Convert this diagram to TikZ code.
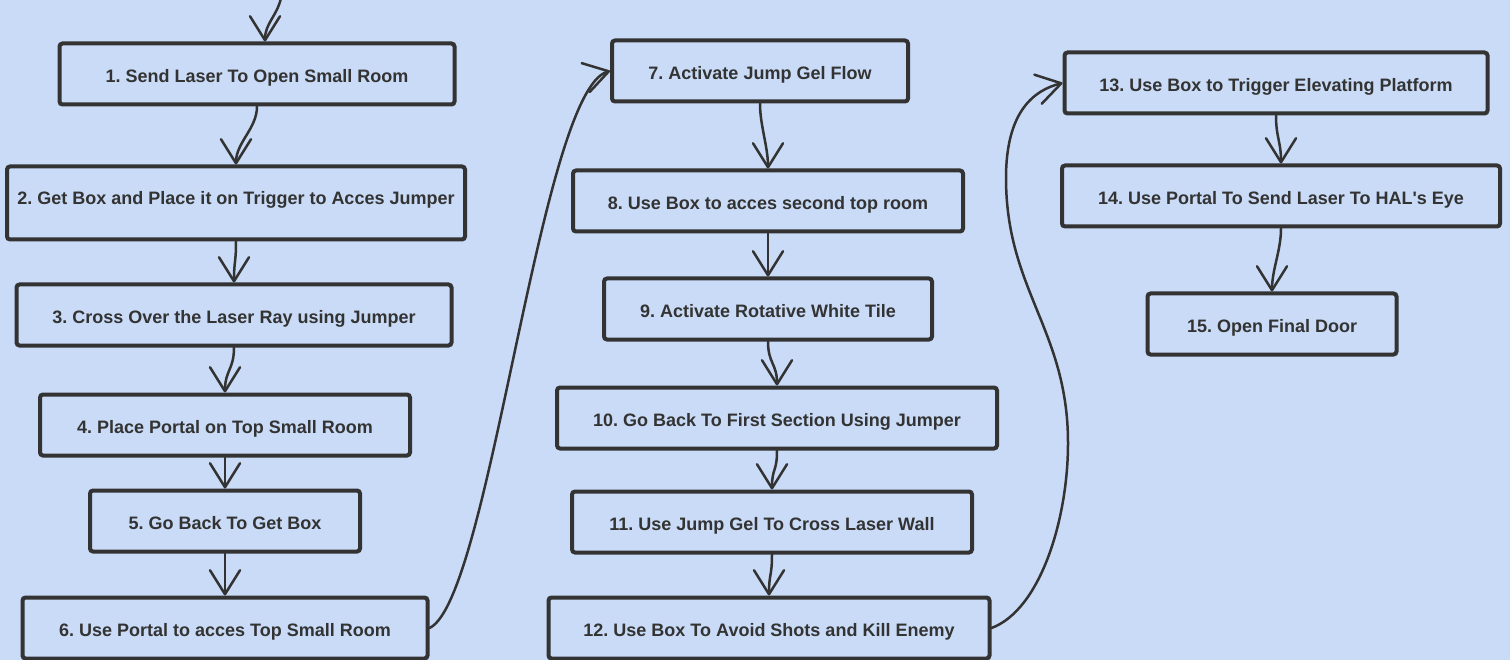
\documentclass[tikz,border=0pt]{standalone}
\usepackage{fontspec}
\setmainfont{Liberation Sans}
\usetikzlibrary{arrows.meta}
\definecolor{sketchbg}{HTML}{C9DBF6}
\definecolor{ink}{HTML}{333333}
\frenchspacing

\begin{document}
\begin{tikzpicture}[
		x=1pt, y=-1pt,
		flow/.style={ink, line width=2.5pt, line cap=round, -{Straight Barb[length=24pt, width=30pt, round]}},
		task/.style={draw=ink, line width=4pt, rounded corners=3pt, inner sep=0pt,
			minimum height=61pt, text height=17pt, text depth=0pt,
			text=ink, font=\fontsize{18}{20}\selectfont\bfseries},
	]
	\fill[sketchbg] (0,0) rectangle (1510,660);
	\useasboundingbox (0,0) rectangle (1510,660);
	% first column
	\node[task, minimum width=395pt] (s1) at (257,74) {1. Send Laser To Open Small Room};
	\node[task, minimum width=458pt, minimum height=73pt, text depth=14pt] (s2) at (236,203) {2. Get Box and Place it on Trigger to Acces Jumper};
	\node[task, minimum width=435pt] (s3) at (234,315) {3. Cross Over the Laser Ray using Jumper};
	\node[task, minimum width=370pt] (s4) at (225,425) {4. Place Portal on Top Small Room};
	\node[task, minimum width=270pt] (s5) at (225,521) {5. Go Back To Get Box};
	\node[task, minimum width=405pt] (s6) at (225,628) {6. Use Portal to acces Top Small Room};
	% second column
	\node[task, minimum width=296pt] (s7) at (760,71) {7. Activate Jump Gel Flow};
	\node[task, minimum width=390pt] (s8) at (768,201) {8. Use Box to acces second top room};
	\node[task, minimum width=328pt] (s9) at (768,309) {9. Activate Rotative White Tile};
	\node[task, minimum width=440pt] (s10) at (777,418) {10. Go Back To First Section Using Jumper};
	\node[task, minimum width=400pt] (s11) at (772,522) {11. Use Jump Gel To Cross Laser Wall};
	\node[task, minimum width=441pt] (s12) at (769,628) {12. Use Box To Avoid Shots and Kill Enemy};
	% third column
	\node[task, minimum width=423pt] (s13) at (1276,83) {13. Use Box to Trigger Elevating Platform};
	\node[task, minimum width=438pt] (s14) at (1281,196) {14. Use Portal To Send Laser To HAL\textquotesingle s Eye};
	\node[task, minimum width=249pt] (s15) at (1272,324) {15. Open Final Door};
	% connectors
	\coordinate (entry) at (281,-2);
	\draw[flow] (entry) .. controls +(-4,18) and +(0,-18) .. ([xshift=8pt]s1.north);
	\foreach \a/\b in {1/2,2/3,3/4,4/5,5/6,7/8,8/9,9/10,10/11,11/12,13/14,14/15}
		\draw[flow] (s\a.south) .. controls +(0,22) and +(0,-22) .. (s\b.north);
	\draw[flow] (s6.east) .. controls (490,600) and (540,90) .. (s7.west);
	\draw[flow] (s12.east) .. controls (1040,610) and (1068,520) .. (1068,443)
		.. controls (1068,330) and (1006,290) .. (1006,178)
		.. controls (1006,110) and (1035,90) .. (s13.west);
\end{tikzpicture}
\end{document}
